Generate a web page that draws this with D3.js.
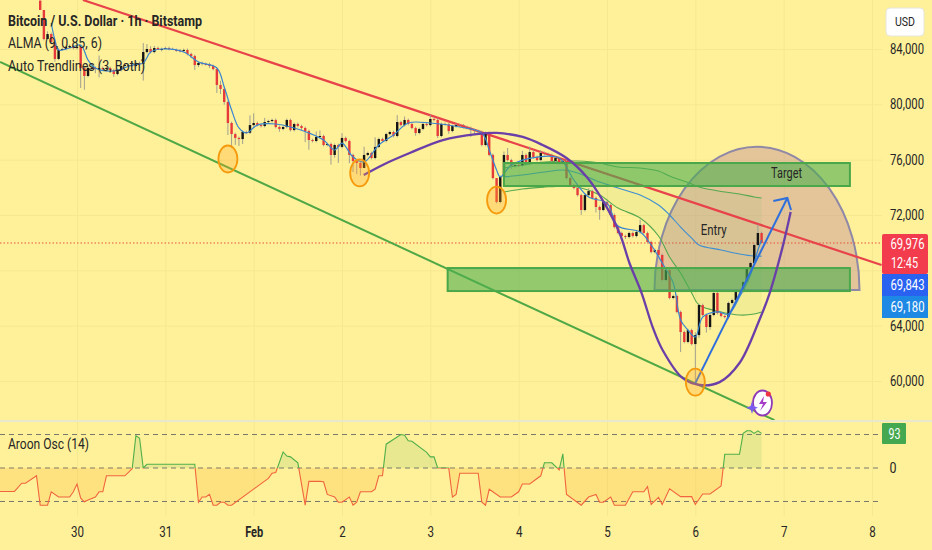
<!DOCTYPE html>
<html>
<head>
<meta charset="utf-8">
<script src="https://cdn.jsdelivr.net/npm/d3@7"></script>
<style>
  html, body { margin: 0; padding: 0; background: #fff19a; overflow: hidden; }
  svg { display: block; font-family: Roboto, sans-serif; }
</style>
</head>
<body>
<div id="chart"></div>
<script>
// hourly candles, hour 0 = 29 Jan 14:00, open of each candle is the previous close
const closes = [
  86820,84720,85080,84510,83280,83930,84000,84140,84220,84070,
  84140,82630,82050,82630,82630,82550,82630,82550,82630,82480,
  82190,82480,82770,82840,82840,82770,82990,82920,83780,84000,
  83780,84070,83930,84000,84070,84000,83930,83900,83860,83930,
  83640,83490,82840,82990,82920,82900,82770,82550,81400,81110,
  80170,78650,77850,77570,77490,78000,77950,78500,78650,78500,
  78430,78720,78790,78870,78360,78220,78360,78870,78140,78580,
  78430,78290,78070,77420,77350,77640,77710,77060,77130,76340,
  77060,76920,77570,77350,76340,75900,75760,75400,76340,76480,
  76120,76920,77490,77350,77850,78000,77710,78720,78500,78870,
  78580,78290,77930,78220,78580,78500,78940,78870,77710,78580,
  78560,78070,78430,78500,78480,78360,78290,78140,78070,78000,
  77060,77930,76340,74670,72940,74750,76340,75970,75540,75610,
  75590,76340,75760,76550,76190,75970,76480,76410,76340,75900,
  76120,75760,75900,74670,74170,73950,73440,72360,73440,73730,
  73230,72580,72360,72940,72720,72000,71130,70700,70480,70410,
  70700,70480,70770,71270,70700,70050,69320,69470,69110,67300,
  68020,66000,66140,64990,63540,62820,63680,62670,63320,65490,
  64770,63900,64770,66360,64910,64700,64620,65640,65850,66430,
  66500,67150,68090,68530,69830,70700,69976
];
const upperWicks = [
  0,0,200,100,0,150,100,100,100,100,
  100,0,100,100,100,100,900,100,100,100,
  100,100,200,100,100,300,100,100,650,360,
  200,150,100,100,100,100,100,100,100,100,
  100,100,100,100,100,100,100,100,100,300,
  100,100,100,100,100,100,100,700,700,100,
  100,300,100,100,100,100,100,100,100,100,
  100,100,100,100,100,400,400,100,100,100,
  100,100,350,100,100,100,100,100,600,100,
  100,700,100,100,100,100,100,500,100,250,
  100,100,100,100,150,100,300,100,100,100,
  100,100,100,100,100,100,100,100,100,100,
  100,100,100,100,0,100,250,500,100,100,
  100,300,100,400,100,100,200,100,100,100,
  100,100,100,100,100,100,100,100,100,200,
  100,100,100,100,100,100,100,100,100,100,
  100,100,100,400,100,100,100,100,100,100,
  100,100,100,100,100,100,100,100,200,100,
  100,100,100,100,100,100,100,100,100,100,
  100,100,100,100,100,600,100
];
const lowerWicks = [
  0,100,0,150,200,100,0,100,0,100,
  100,1450,1000,100,200,300,600,100,150,100,
  200,100,100,0,100,100,100,100,1200,100,
  100,100,0,100,0,100,0,100,100,100,
  100,150,350,150,100,100,150,100,580,360,
  200,870,1000,500,500,360,100,100,100,100,
  100,100,100,100,100,200,100,100,100,100,
  100,150,800,700,100,100,100,100,100,700,
  200,1150,100,100,600,800,800,550,0,100,
  100,100,100,100,100,100,100,100,100,100,
  100,100,200,100,100,100,100,100,150,100,
  100,200,100,100,100,100,100,500,200,200,
  100,100,100,100,100,100,100,100,200,100,
  100,100,100,100,100,100,100,100,100,100,
  100,100,100,100,100,100,100,350,100,100,
  100,400,700,100,200,100,100,100,100,150,
  100,100,100,100,100,100,100,100,100,100,
  100,100,100,100,1450,100,100,100,2750,200,
  100,400,200,100,100,100,100,150,100,100,
  100,100,100,100,100,100,50
];

// ALMA (9, 0.85, 6)
const almaHours = [3,4,5,8,11,13,15,20,25,28,30,33,39,43,48,50,52,54,56,59,64,69,73,77,80,82,85,88,92,96,100,106,114,120,122,124,125,128,135,141,145,149,154,157,163,166,169,172,174,176,178,180,184,187,190,193,195,196];
const almaValues = [85880,84650,83930,84070,84290,83200,82630,82410,82840,82990,83780,84000,83780,83060,82630,81250,79590,78290,77930,78500,78580,78290,77930,77420,76700,77200,76190,75830,77060,77780,78650,78650,78360,77930,76700,75250,74750,75610,76190,76120,74530,73300,72860,71200,70770,69830,68530,67080,64410,63680,63180,64620,64990,64840,66070,67660,69470,70190];

// the three band lines on the right
const bandHours = [126,131,137,142,146,152,157,163,168,171,174,177,179,185,190,194,196];
const bandUpper = [75400,75610,75830,75900,75900,75760,75470,75400,75180,74820,74530,74240,74020,73700,73520,73300,73230];
const bandMiddle = [74750,74890,75110,75250,75040,74380,73950,73440,72720,72000,71130,70330,69830,69470,69180,69030,69030];
const bandLower = [73660,73880,74020,74090,74020,73440,72500,71780,70480,68960,67800,66360,65490,64990,64770,64840,64990];

// drawings, [hour, price]
const redTrend = [[11.6,87543],[228.6,68383]];
const greenTrend = [[-10.9,83060],[199.5,57176]];
const upperZone = [126,220,75758,74095];
const lowerZone = [110.7,220,68166,66503];
const dome = [166.9,222.6,66580,76940];
const cupHours = [87.9,93.6,100.4,109.4,118.6,124,131.1,136.5,143,148.5,152.8,157.4,160.1,163.4,166.4,169.1,174.5,179.2,184.6,190,195.4,198.2,201.7,203.9];
const cupValues = [74890,75690,76480,77420,77850,77930,77640,77060,76120,74750,73080,70700,68530,66360,63900,62240,60220,59710,59920,61300,64410,66360,69680,72210];
const arrowPath = [[178,59850],[203,73230]];
const arrowHead = [[199.2,73010],[203,73230],[204,72360]];
const touchHours = [51.0,86.8,124,178];
const touchValues = [76050,75040,73080,59920];

// Aroon Osc (14)
const aroonHours = [-11,-7,-5,-4,-1,0,2,3,5,8,9,10,11,12,13,15,16,17,18,23,25,26,27,28,29,42,43,44,45,46,47,48,49,50,51,52,62,63,64,66,67,68,70,72,73,76,77,78,80,81,82,84,85,86,87,90,91,92,93,94,98,99,100,101,105,106,107,108,111,112,113,114,119,120,121,122,125,128,130,131,133,136,137,139,141,142,143,147,149,151,152,153,155,156,159,161,164,165,166,168,169,171,174,177,178,180,182,185,186,190,191,192,193,194,195,196];
const aroonValues = [-63,-63,-41,-41,-21,-100,-100,-64,-78,-78,-64,-43,-81,-91,-86,-78,-64,-64,-21,-21,-2,87,80,0,10,10,-92,-78,-78,-71,-100,-100,-92,-92,-100,-100,-28,-14,-12,43,32,30,14,-100,-36,-36,-37,-71,-78,-92,-92,-78,-100,-92,-64,-64,-57,-21,-21,64,90,88,73,72,42,30,30,0,0,-78,-71,-14,-14,-92,-100,-57,-78,-78,-64,-43,-43,-21,14,14,-5,38,-71,-100,-78,-71,-92,-92,-78,-100,-100,-64,-64,-50,-98,-79,-98,-56,-77,-77,-98,-70,-70,-48,37,37,93,100,100,93,100,93];

const priceTicks = [84000,80000,76000,72000,64000,60000];
const timeTicks = [10,34,58,82,106,130,154,178,202,226];
const timeLabels = ["30","31","Feb","2","3","4","5","6","7","8"];
const lastPrice = "69,976";
const countdown = "12:45";
const almaLast = "69,843";
const bandLast = "69,180";
const aroonLast = "93";

const width = 932;
const height = 550;
const paneRight = 882;
const paneBottom = 420;
const bg = "#fff19a";
const inkColor = "#262626";
const upColor = "#141414";
const downColor = "#e63a3a";
const gridColor = "#f6e88f";

const x = d3.scaleLinear().domain([10, 226]).range([77, 872]);
const y = d3.scaleLinear().domain([84000, 60000]).range([49, 381]);
const yAroon = d3.scaleLinear().domain([100, -100]).range([430.8, 505.2]);

const svg = d3.select("#chart").append("svg").attr("width", width).attr("height", height);
svg.append("rect").attr("width", width).attr("height", height).attr("fill", bg);

const defs = svg.append("defs");
defs.append("clipPath").attr("id", "pane").append("rect").attr("width", paneRight).attr("height", paneBottom);
defs.append("clipPath").attr("id", "above").append("rect").attr("width", paneRight).attr("y", paneBottom).attr("height", yAroon(0) - paneBottom);
defs.append("clipPath").attr("id", "below").append("rect").attr("width", paneRight).attr("y", yAroon(0)).attr("height", height - yAroon(0));

// squeezed text helper, the picture was resized so the glyphs are narrow
function label(parent, text, px, py, w, opts = {}) {
  return parent.append("text")
    .attr("x", px).attr("y", py).attr("dy", "0.35em")
    .attr("text-anchor", opts.anchor || "start")
    .attr("textLength", w).attr("lengthAdjust", "spacingAndGlyphs")
    .attr("font-size", opts.size || 14)
    .attr("font-weight", opts.weight || 400)
    .attr("fill", opts.color || inkColor)
    .text(text);
}

// grid
svg.append("g")
  .call(d3.axisBottom(x).tickValues(timeTicks).tickSize(paneBottom).tickFormat(""))
  .call(g => g.select(".domain").remove())
  .selectAll("line").attr("stroke", gridColor);
svg.append("g").attr("transform", `translate(0,${paneBottom})`)
  .call(d3.axisBottom(x).tickValues(timeTicks).tickSize(height - paneBottom - 34).tickFormat(""))
  .call(g => g.select(".domain").remove())
  .selectAll("line").attr("stroke", gridColor);
svg.append("g")
  .call(d3.axisRight(y).tickValues(priceTicks.concat([68000])).tickSize(paneRight).tickFormat(""))
  .call(g => g.select(".domain").remove())
  .selectAll("line").attr("stroke", gridColor);

const pane = svg.append("g").attr("clip-path", "url(#pane)");
const toLine = d3.line().x(d => x(d[0])).y(d => y(d[1]));

// dome sits under everything else
{
  const [h0, h1, base, top] = dome;
  const rx = (x(h1) - x(h0)) / 2;
  const ry = y(base) - y(top);
  pane.append("path")
    .attr("d", `M${x(h0)},${y(base)} A${rx},${ry} 0 0 1 ${x(h1)},${y(base)} Z`)
    .attr("fill", "rgb(185,132,152)").attr("fill-opacity", 0.4)
    .attr("stroke", "#8f88a6").attr("stroke-width", 2);
}

// last price line
pane.append("line")
  .attr("x1", 0).attr("x2", paneRight)
  .attr("y1", y(69976)).attr("y2", y(69976))
  .attr("stroke", "#e5533d").attr("stroke-width", 1).attr("stroke-dasharray", "1.5 2");

// band fill and lines
pane.append("path")
  .attr("d", d3.area().x(h => x(h)).y0((h, i) => y(bandUpper[i])).y1((h, i) => y(bandLower[i])).curve(d3.curveCatmullRom)(bandHours))
  .attr("fill", "#4caf50").attr("fill-opacity", 0.07);
[[bandUpper, "#55a84f"], [bandMiddle, "#3f8fd0"], [bandLower, "#55a84f"]].forEach(([vals, col]) => {
  pane.append("path")
    .attr("d", d3.line().x(h => x(h)).y((h, i) => y(vals[i])).curve(d3.curveCatmullRom)(bandHours))
    .attr("fill", "none").attr("stroke", col).attr("stroke-width", 1.1);
});

// trendlines
pane.append("path").attr("d", toLine(redTrend)).attr("stroke", "#e8434a").attr("stroke-width", 2.2).attr("fill", "none");
pane.append("path").attr("d", toLine(greenTrend)).attr("stroke", "#4fa845").attr("stroke-width", 2).attr("fill", "none");

// candles
const candles = closes.map((c, i) => {
  const open = i === 0 ? 87500 : closes[i - 1];
  return {
    hour: i, open, close: c,
    high: Math.max(open, c) + upperWicks[i],
    low: Math.min(open, c) - lowerWicks[i]
  };
});
pane.selectAll(".wick").data(candles).join("line")
  .attr("class", "wick")
  .attr("x1", d => x(d.hour)).attr("x2", d => x(d.hour))
  .attr("y1", d => y(d.high)).attr("y2", d => y(d.low))
  .attr("stroke", "#a09f90").attr("stroke-width", 1);
pane.selectAll(".body").data(candles).join("rect")
  .attr("class", "body")
  .attr("x", d => x(d.hour) - 1.2).attr("width", 2.4)
  .attr("y", d => y(Math.max(d.open, d.close)))
  .attr("height", d => Math.max(1, Math.abs(y(d.open) - y(d.close))))
  .attr("fill", d => d.close >= d.open ? upColor : downColor);

// ALMA
pane.append("path")
  .attr("d", d3.line().x(h => x(h)).y((h, i) => y(almaValues[i])).curve(d3.curveCatmullRom)(almaHours))
  .attr("fill", "none").attr("stroke", "#3a86d0").attr("stroke-width", 1.2);

// green zones
[upperZone, lowerZone].forEach(([h0, h1, top, bottom]) => {
  pane.append("rect")
    .attr("x", x(h0)).attr("width", x(h1) - x(h0))
    .attr("y", y(top)).attr("height", y(bottom) - y(top))
    .attr("fill", "#4caf50").attr("fill-opacity", 0.6)
    .attr("stroke", "#4aa84a").attr("stroke-width", 2);
});

// purple cup
pane.append("path")
  .attr("d", d3.line().x(h => x(h)).y((h, i) => y(cupValues[i])).curve(d3.curveCatmullRom)(cupHours))
  .attr("fill", "none").attr("stroke", "#6a3fa8").attr("stroke-width", 2.3);

// arrow
pane.append("path").attr("d", toLine(arrowPath)).attr("stroke", "#2f6fdc").attr("stroke-width", 2).attr("fill", "none");
pane.append("path").attr("d", toLine(arrowHead)).attr("stroke", "#2f6fdc").attr("stroke-width", 2).attr("fill", "none");

// touch circles
pane.selectAll(".touch").data(touchHours).join("ellipse")
  .attr("class", "touch")
  .attr("cx", h => x(h)).attr("cy", (h, i) => y(touchValues[i]))
  .attr("rx", 9.5).attr("ry", 13.5)
  .attr("fill", "#ffa726").attr("fill-opacity", 0.3)
  .attr("stroke", "#f59a0c").attr("stroke-width", 1.8);

// small logo at the end of the green line
const logo = svg.append("g");
logo.append("ellipse").attr("cx", 762.5).attr("cy", 403).attr("rx", 9.5).attr("ry", 12.5)
  .attr("fill", "#fff").attr("stroke", "#8e3ab8").attr("stroke-width", 1.8);
logo.append("path").attr("d", "M764,396 L759,404 L763,404 L760,411 L767,402 L763,402 Z").attr("fill", "#a63cc8");
logo.append("circle").attr("cx", 768.3).attr("cy", 394).attr("r", 2.6).attr("fill", "#ee3344");
logo.append("path").attr("d", "M752,401 L753.4,406 L758,407.7 L753.4,409.4 L752,414 L750.6,409.4 L746,407.7 L750.6,406 Z").attr("fill", "#7c5cf0");

// drawing labels
label(svg, "Target", x(202.8), y(75040), 31, { anchor: "middle" });
label(svg, "Entry", x(183), y(70910), 26, { anchor: "middle" });

// header
label(svg, "Bitcoin / U.S. Dollar · 1h · Bitstamp", 8, 21, 194, { weight: 700 });
label(svg, "ALMA (9, 0.85, 6)", 8, 43, 94);
label(svg, "Auto Trendlines (3, Both)", 8, 66, 137);

// pane separator
svg.append("rect").attr("x", 0).attr("y", paneBottom).attr("width", width).attr("height", 2).attr("fill", "#e9e8cc");

// Aroon pane
const aroonG = svg.append("g");
[90, 0, -90].forEach(v => {
  aroonG.append("line")
    .attr("x1", 0).attr("x2", paneRight).attr("y1", yAroon(v)).attr("y2", yAroon(v))
    .attr("stroke", "#77776e").attr("stroke-width", 1).attr("stroke-dasharray", "5 4");
});
const aroonArea = d3.area().x(h => x(h)).y0(yAroon(0)).y1((h, i) => yAroon(aroonValues[i]));
const aroonLine = d3.line().x(h => x(h)).y((h, i) => yAroon(aroonValues[i]));
[["above", "#4caf50", 0.13, "#4faf4a"], ["below", "#ff9800", 0.17, "#f0653f"]].forEach(([clip, fill, op, stroke]) => {
  const g = aroonG.append("g").attr("clip-path", `url(#${clip})`);
  g.append("path").attr("d", aroonArea(aroonHours)).attr("fill", fill).attr("fill-opacity", op);
  g.append("path").attr("d", aroonLine(aroonHours)).attr("fill", "none").attr("stroke", stroke).attr("stroke-width", 1.1);
});
label(aroonG, "Aroon Osc (14)", 8, 444, 81);

// right axis
const yAxis = svg.append("g").attr("transform", `translate(${paneRight},0)`)
  .call(d3.axisRight(y).tickValues(priceTicks).tickSize(0).tickPadding(8).tickFormat(d3.format(",")));
yAxis.select(".domain").remove();
yAxis.selectAll("text")
  .attr("font-family", "Roboto, sans-serif").attr("font-size", 14).attr("fill", inkColor)
  .attr("textLength", 34).attr("lengthAdjust", "spacingAndGlyphs");

// time axis
const timeAxis = svg.append("g").attr("transform", "translate(0,532)")
  .call(d3.axisBottom(x).tickValues(timeTicks).tickSize(0).tickPadding(0).tickFormat((d, i) => timeLabels[i]));
timeAxis.select(".domain").remove();
timeAxis.selectAll("text")
  .attr("font-family", "Roboto, sans-serif").attr("font-size", 14).attr("fill", inkColor)
  .attr("y", 0).attr("dy", "0.35em")
  .attr("font-weight", (d, i) => timeLabels[i] === "Feb" ? 700 : 400)
  .attr("textLength", (d, i) => timeLabels[i] === "Feb" ? 18 : timeLabels[i].length * 6.5)
  .attr("lengthAdjust", "spacingAndGlyphs");

// usd button
svg.append("rect").attr("x", 886).attr("y", 8).attr("width", 38).attr("height", 28).attr("rx", 4)
  .attr("fill", "#fff").attr("stroke", "#e6e6da");
label(svg, "USD", 905, 22, 20, { anchor: "middle", size: 12 });

// price tags
svg.append("rect").attr("x", paneRight).attr("y", 234).attr("width", 46).attr("height", 40).attr("rx", 2).attr("fill", "#f23b4c");
svg.append("rect").attr("x", paneRight).attr("y", 274).attr("width", 46).attr("height", 23).attr("fill", "#2962f0");
svg.append("rect").attr("x", paneRight).attr("y", 296).attr("width", 46).attr("height", 22).attr("fill", "#1e88e5");
label(svg, lastPrice, 890.5, 244, 34, { color: "#fff" });
label(svg, countdown, 891, 263, 27, { color: "#fff" });
label(svg, almaLast, 890.5, 285, 34, { color: "#fff" });
label(svg, bandLast, 890.5, 307, 34, { color: "#fff" });

// aroon tags
svg.append("rect").attr("x", paneRight).attr("y", 423).attr("width", 24).attr("height", 21).attr("rx", 1).attr("fill", "#43a84f");
label(svg, aroonLast, 894.5, 433.7, 12, { anchor: "middle", color: "#fff" });
label(svg, "0", 893, 468, 7, { anchor: "middle" });
</script>
</body>
</html>
